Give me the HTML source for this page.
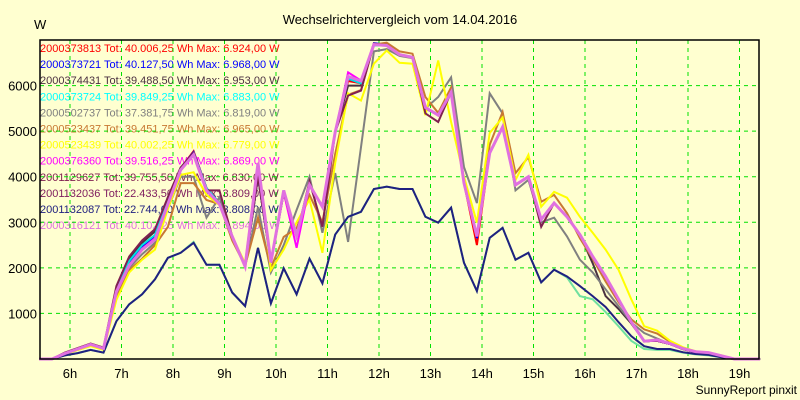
<!DOCTYPE html>
<html><head><meta charset="utf-8"><style>
html,body{margin:0;padding:0;background:#ffffd0;}
svg{display:block;font-family:"Liberation Sans",sans-serif;}
</style></head><body>
<svg id="chart" width="800" height="400" viewBox="0 0 800 400" xmlns="http://www.w3.org/2000/svg">
<rect x="0" y="0" width="800" height="400" fill="#ffffd0"/>
<text x="400" y="24" text-anchor="middle" font-size="13" fill="#000">Wechselrichtervergleich vom 14.04.2016</text>
<text x="34" y="29" font-size="13" fill="#000">W</text>
<text x="797" y="394" text-anchor="end" font-size="12" fill="#000">SunnyReport pinxit</text>
<g id="legend"></g>
<g id="grid"></g>
<g id="axes"></g>
<g id="series"></g>
<rect x="40" y="40" width="719" height="319" fill="none" stroke="#000" stroke-width="1.5"/>
</svg>
<script>
const times=[5.4,5.65,5.9,6.15,6.4,6.65,6.9,7.15,7.4,7.65,7.9,8.15,8.4,8.65,8.9,9.15,9.4,9.65,9.9,10.15,10.4,10.65,10.9,11.15,11.4,11.65,11.9,12.15,12.4,12.65,12.9,13.15,13.4,13.65,13.9,14.15,14.4,14.65,14.9,15.15,15.4,15.65,15.9,16.15,16.4,16.65,16.9,17.15,17.4,17.65,17.9,18.15,18.4,18.65,18.9,19.15,19.4];
const xTicks=[6,7,8,9,10,11,12,13,14,15,16,17,18,19];
const xTickLabels=["6h","7h","8h","9h","10h","11h","12h","13h","14h","15h","16h","17h","18h","19h"];
const yTicks=[1000,2000,3000,4000,5000,6000];
const seriesNames=["2000373813","2000373721","2000374431","2000373724","2000502737","2000523437","2000523439","2000376360","2001129627","2001132036","2001132087","2000316121"];
const legendTexts=["2000373813 Tot: 40.006,25 Wh Max: 6.924,00 W","2000373721 Tot: 40.127,50 Wh Max: 6.968,00 W","2000374431 Tot: 39.488,50 Wh Max: 6.953,00 W","2000373724 Tot: 39.849,25 Wh Max: 6.883,00 W","2000502737 Tot: 37.381,75 Wh Max: 6.819,00 W","2000523437 Tot: 39.451,75 Wh Max: 6.965,00 W","2000523439 Tot: 40.002,25 Wh Max: 6.779,00 W","2000376360 Tot: 39.516,25 Wh Max: 6.869,00 W","2001129627 Tot: 39.755,50 Wh Max: 6.830,00 W","2001132036 Tot: 22.433,50 Wh Max: 3.809,00 W","2001132087 Tot: 22.744,00 Wh Max: 3.808,00 W","2000316121 Tot: 40.102,25 Wh Max: 6.894,00 W"];
const textColors=["#ff0000","#0000ff","#4a3040","#00ffff","#808080","#c87832","#ffff00","#ff00ff","#802050","#802060","#202080","#e070e0"];
const lineColors=["#ff0000","#0000ff","#4a3040","#00e0e0","#808080","#c87832","#ffff00","#ff00ff","#802050","#70e0a0","#202080","#e070e0"];
const s0=[0,0,120,220,320,230,1500,2100,2470,2700,3490,4190,4560,3750,3420,2690,2030,4000,2120,3650,2700,3820,3340,4980,6100,6050,6920,6880,6680,6620,5520,5350,5850,3860,2500,4520,5090,3820,4000,3060,3420,3120,2730,2250,1810,1310,810,390,400,330,220,150,130,70,0,0,0];
const s1=[0,0,120,220,320,230,1500,2100,2470,2700,3490,4190,4540,3750,3420,2690,2030,4000,2120,3650,2700,3820,3340,4980,6150,6050,6930,6900,6680,6620,5500,5350,5850,3860,2650,4520,5090,3820,4000,3060,3420,3120,2730,2250,1810,1310,810,390,400,330,220,150,130,70,0,0,0];
const s2=[0,0,130,230,330,240,1550,2200,2550,2800,3550,4200,4500,3750,3420,2690,2030,4000,2120,3650,2700,3820,3340,4980,6000,6000,6900,6880,6680,6620,5520,5350,5850,3860,2700,4520,5090,3820,4000,3060,3420,3120,2730,2100,1380,1100,780,390,400,330,220,150,130,70,0,0,0];
const s3=[0,0,120,220,320,230,1520,2150,2500,2720,3500,4200,4520,3750,3420,2690,2030,4000,2120,3700,2700,3820,3340,4980,6150,6050,6880,6880,6680,6620,5520,5350,5850,3860,2690,4520,5090,3820,4000,3060,3420,3120,2730,2250,1810,1310,810,390,400,330,220,150,130,70,0,0,0];
const s4=[0,0,110,210,300,220,1400,2000,2300,2550,3300,4000,4000,3100,3550,2690,2030,3330,1900,2500,3270,4000,2770,4080,2570,4650,6750,6800,6650,6600,5500,5750,6180,4210,3420,5830,5390,3700,3930,3000,3100,2690,2180,1900,1530,1160,800,570,450,330,220,150,120,60,0,0,0];
const s5=[0,0,110,200,290,210,1350,1950,2200,2500,2900,3860,3860,3490,3400,2600,2050,3100,2000,2680,2870,3600,3000,4500,5800,5900,6900,6940,6750,6700,5750,5400,5960,3900,2700,4700,5420,4080,4430,3450,3600,3200,2650,2200,1700,1250,870,650,560,380,240,160,130,70,0,0,0];
const s6=[0,0,100,200,280,200,1300,1900,2180,2400,3300,4040,4100,3600,3380,2690,2100,4300,1950,2400,3000,3500,2330,4300,5830,5670,6480,6770,6500,6480,5350,6550,5200,4000,2990,4960,5300,3930,4480,3340,3670,3540,3120,2770,2400,1960,1310,720,620,400,260,170,130,80,0,0,0];
const s7=[0,0,120,220,320,230,1480,2050,2420,2650,3400,4150,4500,3700,3400,2690,2030,4300,2120,3650,2440,3820,3340,4980,6290,6110,6900,6880,6680,6620,5520,5350,5850,3860,2690,4520,5090,3820,4000,3060,3420,3120,2730,2250,1810,1310,810,390,400,330,220,150,130,70,0,0,0];
const s8=[0,0,140,240,340,250,1600,2250,2600,2850,3550,4200,4520,3700,3700,2700,2030,4000,2120,3650,2700,3900,2900,4980,5780,5890,6920,6880,6680,6620,5390,5200,5850,3860,2690,4520,5090,3820,4000,2900,3420,3120,2730,2250,1810,1310,810,390,400,330,220,150,130,70,0,0,0];
const s9=[0,0,80,130,200,140,830,1200,1420,1750,2220,2330,2570,2070,2070,1460,1160,2440,1220,1990,1420,2200,1660,2730,3120,3230,3730,3780,3730,3730,3120,2990,3320,2110,1490,2660,2880,2180,2330,1680,1960,1790,1380,1310,1030,720,400,220,200,200,140,100,80,40,0,0,0];
const s10=[0,0,80,130,200,140,830,1200,1420,1750,2220,2330,2550,2070,2070,1460,1160,2440,1220,1990,1420,2200,1660,2730,3120,3230,3730,3780,3730,3730,3120,2990,3320,2110,1490,2660,2880,2180,2330,1680,1960,1810,1600,1380,1140,810,500,280,220,220,150,110,90,40,0,0,0];
const s11=[0,0,120,220,320,230,1480,2050,2400,2620,3400,4150,4480,3700,3400,2690,2030,4300,2120,3700,2700,3820,3340,4980,6200,6100,6900,6880,6680,6620,5520,5350,5850,3860,2690,4520,5090,3820,4000,3060,3420,3120,2730,2250,1810,1310,810,390,420,340,230,160,140,70,0,0,0];
const seriesValues=[s0,s1,s2,s3,s4,s5,s6,s7,s8,s9,s10,s11];

const NS="http://www.w3.org/2000/svg";
const L=40,R=759,T=40,B=359,T0=6,PXH=51.5,VMAX=7000;
function xScale(t){return 70+(t-T0)*PXH;}
function yScale(v){return B-v*(B-T)/VMAX;}
function mk(tag,attrs,parent){const e=document.createElementNS(NS,tag);for(const k in attrs)e.setAttribute(k,attrs[k]);parent.appendChild(e);return e;}

const legend=document.getElementById('legend');
legendTexts.forEach((txt,i)=>{
  const t=mk('text',{x:40,y:52+i*16.1,'font-size':11,fill:textColors[i]},legend);
  t.textContent=txt;
  
  
});
const grid=document.getElementById('grid');
xTicks.forEach((h,i)=>{
  const x=xScale(h);
  const l=mk('line',{x1:x,x2:x,y1:T,y2:B,stroke:'#00e000','stroke-dasharray':'4,4','stroke-width':1},grid);
  
  
});
yTicks.forEach(v=>{
  const y=yScale(v);
  const l=mk('line',{x1:L,x2:R,y1:y,y2:y,stroke:'#00e000','stroke-dasharray':'4,4','stroke-width':1},grid);
  
  
});
const axes=document.getElementById('axes');
xTicks.forEach((h,i)=>{
  const t=mk('text',{x:xScale(h),y:378,'text-anchor':'middle','font-size':13,fill:'#000'},axes);
  t.textContent=xTickLabels[i];
  
  
});
yTicks.forEach(v=>{
  const t=mk('text',{x:37,y:yScale(v)+5,'text-anchor':'end','font-size':13,fill:'#000'},axes);
  t.textContent=String(v);
  
  
});
const sg=document.getElementById('series');
seriesValues.forEach((vals,i)=>{
  const pts=vals.map((v,k)=>xScale(times[k]).toFixed(1)+','+yScale(v).toFixed(1)).join(' ');
  const p=mk('polyline',{points:pts,fill:'none',stroke:lineColors[i],'stroke-width':i===11?3:2,'stroke-linejoin':'miter'},sg);
  
  
});
</script>
</body></html>
